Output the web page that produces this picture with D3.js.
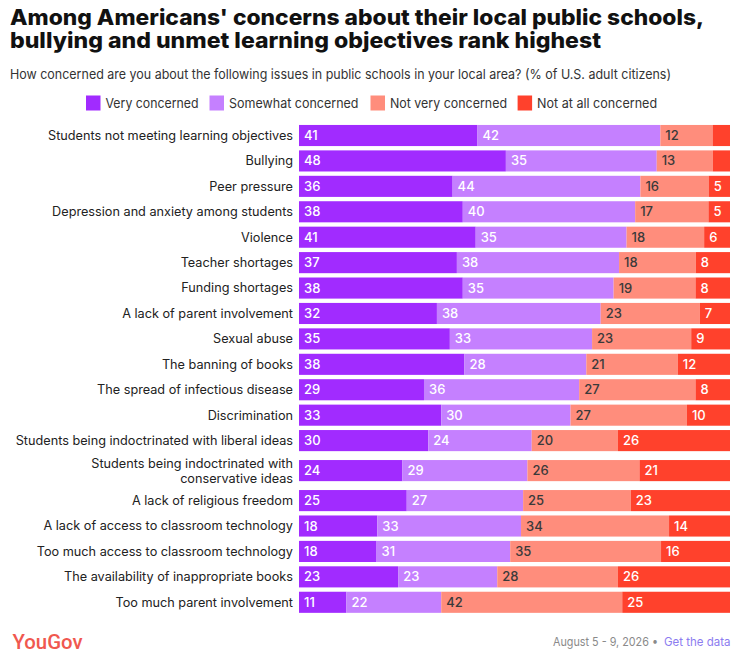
<!DOCTYPE html>
<html>
<head>
<meta charset="utf-8">
<script src="https://cdn.jsdelivr.net/npm/d3@7"></script>
<style>
  body { margin: 0; background: #fff; }
  #chart { width: 744px; height: 659px; }
</style>
</head>
<body>
<div id="chart"></div>
<script>
// Issues, top to bottom (a "\n" marks a line break in the label)
const issues = [
    "Students not meeting learning objectives",
    "Bullying",
    "Peer pressure",
    "Depression and anxiety among students",
    "Violence",
    "Teacher shortages",
    "Funding shortages",
    "A lack of parent involvement",
    "Sexual abuse",
    "The banning of books",
    "The spread of infectious disease",
    "Discrimination",
    "Students being indoctrinated with liberal ideas",
    "Students being indoctrinated with\nconservative ideas",
    "A lack of religious freedom",
    "A lack of access to classroom technology",
    "Too much access to classroom technology",
    "The availability of inappropriate books",
    "Too much parent involvement"
];

const seriesNames = ["Very concerned", "Somewhat concerned", "Not very concerned", "Not at all concerned"];

const veryConcerned     = [41, 48, 36, 38, 41, 37, 38, 32, 35, 38, 29, 33, 30, 24, 25, 18, 18, 23, 11];
const somewhatConcerned = [42, 35, 44, 40, 35, 38, 35, 38, 33, 28, 36, 30, 24, 29, 27, 33, 31, 23, 22];
const notVeryConcerned  = [12, 13, 16, 17, 18, 18, 19, 23, 23, 21, 27, 27, 20, 26, 25, 34, 35, 28, 42];
const notAtAllConcerned = [4, 4, 5, 5, 6, 8, 8, 7, 9, 12, 8, 10, 26, 21, 23, 14, 16, 26, 25];

const colors = ["#a12bff", "#c580ff", "#ff8d7c", "#ff412c"];
const labelColors = ["#fff", "#fff", "#3a3a3a", "#fff"];

const width = 744, height = 659;
const margin = { left: 299, right: 14, top: 122.8, bottom: 44 };

// build rows for d3.stack
const rows = issues.map((name, i) => ({
    name,
    lines: name.split("\n"),
    [seriesNames[0]]: veryConcerned[i],
    [seriesNames[1]]: somewhatConcerned[i],
    [seriesNames[2]]: notVeryConcerned[i],
    [seriesNames[3]]: notAtAllConcerned[i]
}));

// rows with a two-line label get a bit more room
let acc = 0;
rows.forEach(r => {
    r.units = 1 + (r.lines.length - 1) * 0.36;
    r.start = acc;
    acc += r.units;
});

const svg = d3.select("#chart")
    .append("svg")
    .attr("width", width)
    .attr("height", height)
    .style("font-family", "Inter, 'Noto Sans', sans-serif");

const x = d3.scaleLinear()
    .domain([0, 1])
    .range([margin.left, width - margin.right]);

const y = d3.scaleLinear()
    .domain([0, acc])
    .range([margin.top, height - margin.bottom]);

const bandPad = 0.17;
const barH = y(1 - bandPad) - y(0);
const rowCenter = r => y(r.start + r.units / 2);

const stacked = d3.stack()
    .keys(seriesNames)
    .offset(d3.stackOffsetExpand)(rows);

// squeeze or stretch a text to the width it has in the original
function fit(sel, w) {
    sel.attr("textLength", w).attr("lengthAdjust", "spacingAndGlyphs");
}

// title (one text, two lines)
const title = svg.append("text")
    .style("font-weight", 800)
    .style("font-size", "21.5px")
    .style("fill", "#111");
title.append("tspan").attr("x", 10).attr("y", 25)
    .text("Among Americans' concerns about their local public schools,")
    .call(fit, 694);
title.append("tspan").attr("x", 10).attr("y", 48)
    .text("bullying and unmet learning objectives rank highest")
    .call(fit, 591);

svg.append("text")
    .attr("x", 10)
    .attr("y", 79.3)
    .style("font-size", "13.5px")
    .style("fill", "#333")
    .text("How concerned are you about the following issues in public schools in your local area? (% of U.S. adult citizens)")
    .call(fit, 661);

// legend
const legendX = [86, 209.5, 370.5, 517.6];
const legendW = [93, 129.5, 117, 120];
const legend = svg.append("g")
    .selectAll("g")
    .data(seriesNames)
    .join("g")
    .attr("transform", (d, i) => `translate(${legendX[i]},95.5)`);

legend.append("rect")
    .attr("width", 14.5)
    .attr("height", 15)
    .attr("fill", (d, i) => colors[i]);

legend.append("text")
    .attr("x", 19.5)
    .attr("y", 12)
    .style("font-size", "13.5px")
    .style("fill", "#333")
    .text(d => d)
    .each(function (d, i) { d3.select(this).call(fit, legendW[i]); });

// category labels
const labels = svg.append("g")
    .selectAll("text")
    .data(rows)
    .join("text")
    .attr("x", margin.left - 6)
    .attr("y", r => rowCenter(r) - (r.lines.length - 1) * 7.5)
    .attr("text-anchor", "end")
    .style("font-size", "12.7px")
    .style("fill", "#222");

labels.selectAll("tspan")
    .data(r => r.lines)
    .join("tspan")
    .attr("x", margin.left - 6)
    .attr("dy", (d, i) => i === 0 ? "0.35em" : 15)
    .text(d => d);

// bars
const layers = svg.append("g")
    .selectAll("g")
    .data(stacked)
    .join("g")
    .attr("fill", (d, i) => colors[i]);

layers.selectAll("rect")
    .data(d => d)
    .join("rect")
    .attr("x", d => x(d[0]))
    .attr("width", d => x(d[1]) - x(d[0]))
    .attr("y", d => rowCenter(d.data) - barH / 2)
    .attr("height", barH);

// value labels (hidden when the segment is too small)
layers.each(function (layer, li) {
    d3.select(this).selectAll("text")
        .data(layer.filter(d => d.data[layer.key] >= 5))
        .join("text")
        .attr("x", d => x(d[0]) + 5)
        .attr("y", d => rowCenter(d.data))
        .attr("dy", "0.35em")
        .style("font-size", "13px")
        .style("font-weight", 500)
        .style("fill", labelColors[li])
        .text(d => d.data[layer.key]);
});

// footer
svg.append("text")
    .attr("x", 12.5)
    .attr("y", 649)
    .style("font-family", "Roboto, sans-serif")
    .style("font-size", "20px")
    .style("font-weight", 500)
    .style("fill", "#f0584f")
    .text("YouGov")
    .call(fit, 70);

svg.append("text")
    .attr("x", 553)
    .attr("y", 645.5)
    .style("font-size", "12px")
    .style("fill", "#8a8a8a")
    .text("August 5 - 9, 2026 •")
    .call(fit, 105);

svg.append("text")
    .attr("x", 664)
    .attr("y", 645.5)
    .style("font-size", "12px")
    .style("fill", "#8c7cf0")
    .text("Get the data")
    .call(fit, 66.5);
</script>
</body>
</html>
